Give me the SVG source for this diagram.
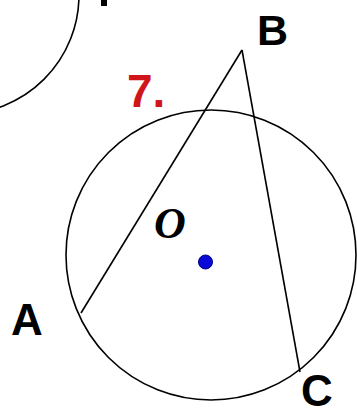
<svg xmlns="http://www.w3.org/2000/svg" width="357" height="415" viewBox="0 0 357 415">
<style>
.ln{fill:none;stroke:#000;stroke-width:1.6}
.lbl{font-family:"Liberation Sans",Arial,sans-serif;font-weight:bold;fill:#000}
</style>
<rect width="357" height="415" fill="#fff"/>
<g id="other-circle"><circle class="ln" cx="-40" cy="-5" r="119"/></g>
<g id="cut-letter"><rect x="101" y="0" width="6" height="6" fill="#000"/></g>
<g id="circle-O"><circle class="ln" cx="211" cy="255" r="145"/></g>
<g id="connectors">
<line class="ln" x1="242" y1="50" x2="81" y2="313"/>
<line class="ln" x1="242" y1="50" x2="300" y2="372"/>
</g>
<g id="center"><circle cx="205.5" cy="262" r="7" fill="#0a0ad8" stroke="#000080" stroke-width="1"/></g>
<g id="label-num"><text x="127" y="107" font-family="Liberation Sans,Arial,sans-serif" font-weight="bold" font-size="46" fill="#d0151b">7.</text></g>
<g id="label-B"><text class="lbl" x="257" y="45" font-size="43">B</text></g>
<g id="label-A"><text class="lbl" x="11" y="335" font-size="44">A</text></g>
<g id="label-C"><text class="lbl" x="301" y="406" font-size="44">C</text></g>
<g id="label-O"><text x="154" y="238" font-family="Liberation Serif,'Times New Roman',serif" font-weight="bold" font-style="italic" font-size="44" fill="#000">O</text></g>
</svg>
